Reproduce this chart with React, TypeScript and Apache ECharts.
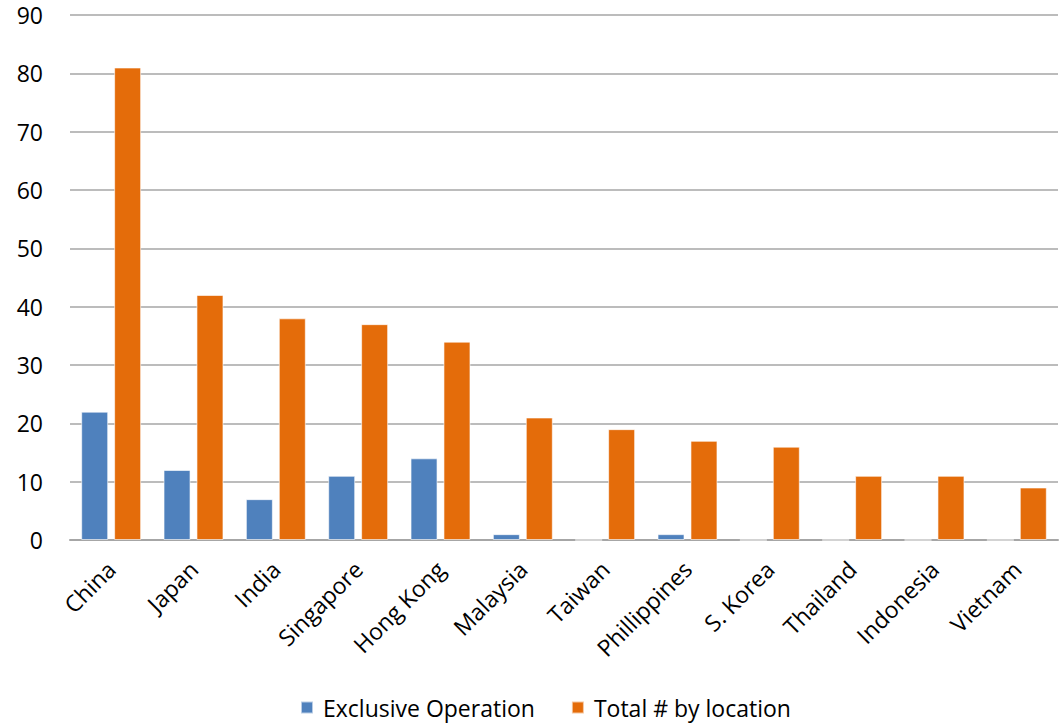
import React, { useEffect, useRef } from "react";
import * as echarts from "echarts";

const categories = ["China", "Japan", "India", "Singapore", "Hong Kong", "Malaysia", "Taiwan", "Phillippines", "S. Korea", "Thailand", "Indonesia", "Vietnam"];
const exclusiveOperation = [22, 12, 7, 11, 14, 1, 0, 1, 0, 0, 0, 0];
const totalByLocation = [81, 42, 38, 37, 34, 21, 19, 17, 16, 11, 11, 9];
const seriesNames = ["Exclusive Operation", "Total # by location"];

const FONT = "'Open Sans', 'Noto Sans', sans-serif";

export default function App() {
  const ref = useRef<HTMLDivElement>(null);
  useEffect(() => {
    if (!ref.current) return;
    const chart = echarts.init(ref.current, undefined, { renderer: "svg" });
    chart.setOption({
      animation: false,
      textStyle: { fontFamily: FONT },
      grid: { left: 70, right: 3, top: 15, bottom: 183, containLabel: false },
      legend: {
        bottom: -1,
        left: 295,
        itemWidth: 12,
        itemHeight: 12,
        itemGap: 36,
        icon: "rect",
        textStyle: { fontFamily: FONT, fontSize: 23, color: "#000", padding: [0, 0, 0, 5] },
        data: seriesNames,
      },
      xAxis: {
        type: "category",
        data: categories,
        axisLine: { lineStyle: { color: "#A6A6A6", width: 2 } },
        axisTick: { show: false },
        axisLabel: { rotate: 45, fontSize: 23, color: "#000", margin: 25, interval: 0, fontFamily: FONT },
      },
      yAxis: {
        type: "value",
        min: 0,
        max: 90,
        interval: 10,
        axisLine: { show: false },
        axisTick: { show: false },
        splitLine: { lineStyle: { color: "#A6A6A6", width: 1.5 } },
        axisLabel: { fontSize: 23, color: "#000", margin: 27, fontFamily: FONT },
      },
      series: [
        {
          name: seriesNames[0],
          type: "bar",
          data: exclusiveOperation,
          barWidth: 27,
          barGap: "22%",
          itemStyle: { color: "#4F81BD", borderColor: "rgba(255,255,255,0.6)", borderWidth: 1 },
        },
        {
          name: seriesNames[1],
          type: "bar",
          data: totalByLocation,
          barWidth: 27,
          barGap: "22%",
          itemStyle: { color: "#E46C0A", borderColor: "rgba(255,255,255,0.6)", borderWidth: 1 },
        },
      ],
    });
    return () => chart.dispose();
  }, []);
  return <div ref={ref} style={{ position: "absolute", left: 0, top: 0, width: 1061, height: 723 }} />;
}
